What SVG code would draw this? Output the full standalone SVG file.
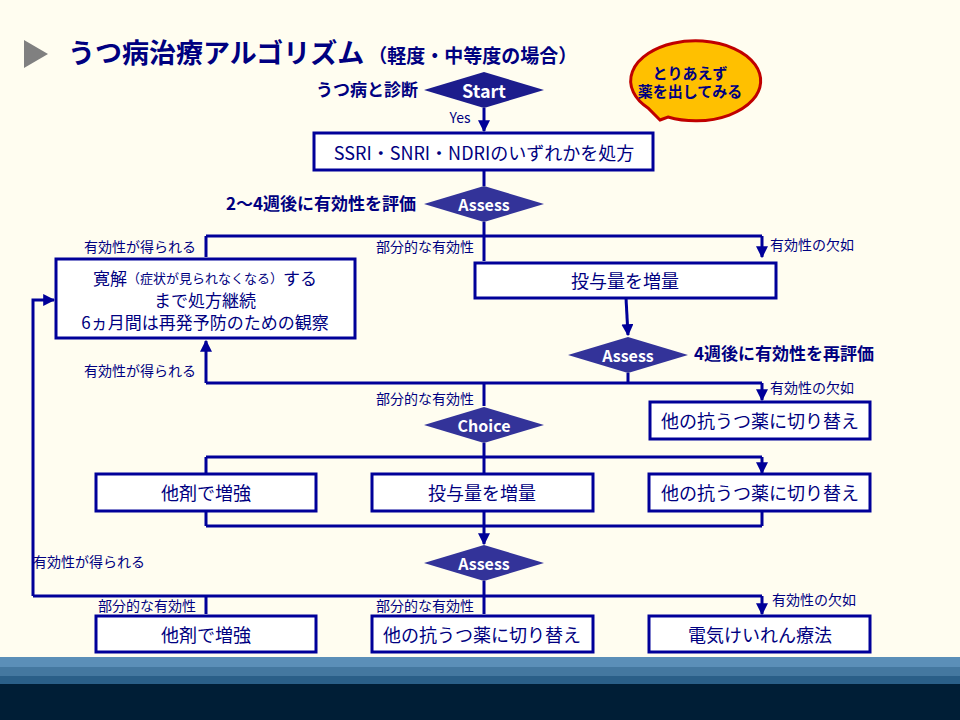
<svg xmlns="http://www.w3.org/2000/svg" width="960" height="720" viewBox="0 0 960 720">
<defs>
<style>
text{font-family:"Noto Sans CJK JP","Liberation Sans",sans-serif;fill:#000080}
.box{fill:#fff;stroke:#000099;stroke-width:3}
.bt{font-size:18px;text-anchor:middle;dominant-baseline:central}
.sm{font-size:14px}
.lb{font-size:17px;font-weight:bold}
.dia{fill:#333399}
.dt{fill:#fff;font-weight:bold;font-size:16px;text-anchor:middle;dominant-baseline:central}
.ln{stroke:#000099;stroke-width:3;fill:none}
</style>
<marker id="ah" viewBox="0 0 10 10" refX="9" refY="5" markerWidth="4" markerHeight="4" orient="auto"><path d="M0,0L10,5L0,10z" fill="#000099"/></marker>
</defs>
<rect width="960" height="720" fill="#fffdf0"/>
<rect y="657" width="960" height="10" fill="#5b8fb8"/>
<rect y="667" width="960" height="9" fill="#4478a0"/>
<rect y="676" width="960" height="8" fill="#2a5f88"/>
<rect y="684" width="960" height="36" fill="#001e36"/>
<polygon points="24,40 48,54 24,68" fill="#808080"/>
<text x="68" y="63" font-size="27" font-weight="bold">うつ病治療アルゴリズム<tspan font-size="19" dx="4">（軽度・中等度の場合）</tspan></text>
<g id="bubble"><path d="M660,120 L668,117 A65,40 0 1 0 648,108 Z" fill="#ffc000" stroke="#c00000" stroke-width="3"/>
<text x="690" y="72" font-size="15" font-weight="bold" text-anchor="middle" dominant-baseline="central">とりあえず</text><text x="690" y="90" font-size="15" font-weight="bold" text-anchor="middle" dominant-baseline="central">薬を出してみる</text></g>
<g id="connectors">
<path class="ln" d="M484,108V131" marker-end="url(#ah)"/>
<path class="ln" d="M484,170V186"/>
<path class="ln" d="M484,222V236M206,236H762"/>
<path class="ln" d="M206,236V257M484,236V261M762,236V257" marker-end="url(#ah)"/>
<path class="ln" d="M626,298L628,335" marker-end="url(#ah)"/>
<path class="ln" d="M628,373V383M206,383H762"/>
<path class="ln" d="M206,383V341" marker-end="url(#ah)"/>
<path class="ln" d="M484,383V406M762,383V400" marker-end="url(#ah)"/>
<path class="ln" d="M484,443V457M206,457H762"/>
<path class="ln" d="M206,457V473M484,457V473M762,457V473" marker-end="url(#ah)"/>
<path class="ln" d="M206,511V526M484,511V526M762,511V526M206,526H762"/>
<path class="ln" d="M484,526V544" marker-end="url(#ah)"/>
<path class="ln" d="M484,581V596M33,596H762M33,596V300H54" marker-end="url(#ah)"/>
<path class="ln" d="M206,596V614M484,596V614M762,596V614" marker-end="url(#ah)"/>
</g>
<g id="start"><polygon points="424,90 484,72 544,90 484,108" style="fill:#1c1c8c"/><text class="dt" x="484" y="90" style="font-size:18px">Start</text>
<text x="418" y="88" class="lb" text-anchor="end" dominant-baseline="central">うつ病と診断</text></g>
<text x="460" y="117" class="sm" text-anchor="middle" dominant-baseline="central">Yes</text>
<g id="n1"><rect class="box" x="314" y="133" width="339" height="37"/><text class="bt" x="484" y="152">SSRI・SNRI・NDRIのいずれかを処方</text></g>
<g id="a1"><polygon class="dia" points="424,204 484,186 544,204 484,222"/><text class="dt" x="484" y="204">Assess</text>
<text x="416" y="202" class="lb" text-anchor="end" dominant-baseline="central">2～4週後に有効性を評価</text></g>
<text x="196" y="246" class="sm" text-anchor="end" dominant-baseline="central">有効性が得られる</text>
<text x="474" y="246" class="sm" text-anchor="end" dominant-baseline="central">部分的な有効性</text>
<text x="770" y="244" class="sm" dominant-baseline="central">有効性の欠如</text>
<g id="remit"><rect class="box" x="56" y="259" width="299" height="79"/>
<text class="bt" x="205" y="277" style="font-size:17px">寛解<tspan font-size="13">（症状が見られなくなる）</tspan>する</text>
<text class="bt" x="205" y="299" style="font-size:17px">まで処方継続</text><text class="bt" x="205" y="321" style="font-size:17px">6ヵ月間は再発予防のための観察</text></g>
<g id="inc1"><rect class="box" x="475" y="263" width="301" height="35"/><text class="bt" x="625" y="280">投与量を増量</text></g>
<g id="a2"><polygon class="dia" points="568,355 628,337 688,355 628,373"/><text class="dt" x="628" y="355">Assess</text>
<text x="694" y="352" class="lb" dominant-baseline="central">4週後に有効性を再評価</text></g>
<text x="196" y="370" class="sm" text-anchor="end" dominant-baseline="central">有効性が得られる</text>
<text x="474" y="398" class="sm" text-anchor="end" dominant-baseline="central">部分的な有効性</text>
<text x="770" y="387" class="sm" dominant-baseline="central">有効性の欠如</text>
<g id="sw1"><rect class="box" x="650" y="402" width="220" height="37"/><text class="bt" x="760" y="420">他の抗うつ薬に切り替え</text></g>
<g id="choice"><polygon class="dia" points="424,425 484,407 544,425 484,443"/><text class="dt" x="484" y="425">Choice</text></g>
<g id="r1"><rect class="box" x="96" y="474" width="220" height="37"/><text class="bt" x="206" y="492">他剤で増強</text></g>
<g id="r2"><rect class="box" x="372" y="474" width="221" height="37"/><text class="bt" x="482" y="492">投与量を増量</text></g>
<g id="r3"><rect class="box" x="649" y="474" width="221" height="37"/><text class="bt" x="760" y="492">他の抗うつ薬に切り替え</text></g>
<g id="a3"><polygon class="dia" points="424,563 484,545 544,563 484,581"/><text class="dt" x="484" y="563">Assess</text></g>
<text x="33" y="561" class="sm" dominant-baseline="central">有効性が得られる</text>
<text x="196" y="605" class="sm" text-anchor="end" dominant-baseline="central">部分的な有効性</text>
<text x="474" y="605" class="sm" text-anchor="end" dominant-baseline="central">部分的な有効性</text>
<text x="772" y="599" class="sm" dominant-baseline="central">有効性の欠如</text>
<g id="b1"><rect class="box" x="96" y="616" width="220" height="36"/><text class="bt" x="206" y="634">他剤で増強</text></g>
<g id="b2"><rect class="box" x="372" y="616" width="221" height="36"/><text class="bt" x="482" y="634">他の抗うつ薬に切り替え</text></g>
<g id="b3"><rect class="box" x="649" y="616" width="221" height="36"/><text class="bt" x="760" y="634">電気けいれん療法</text></g>
</svg>
